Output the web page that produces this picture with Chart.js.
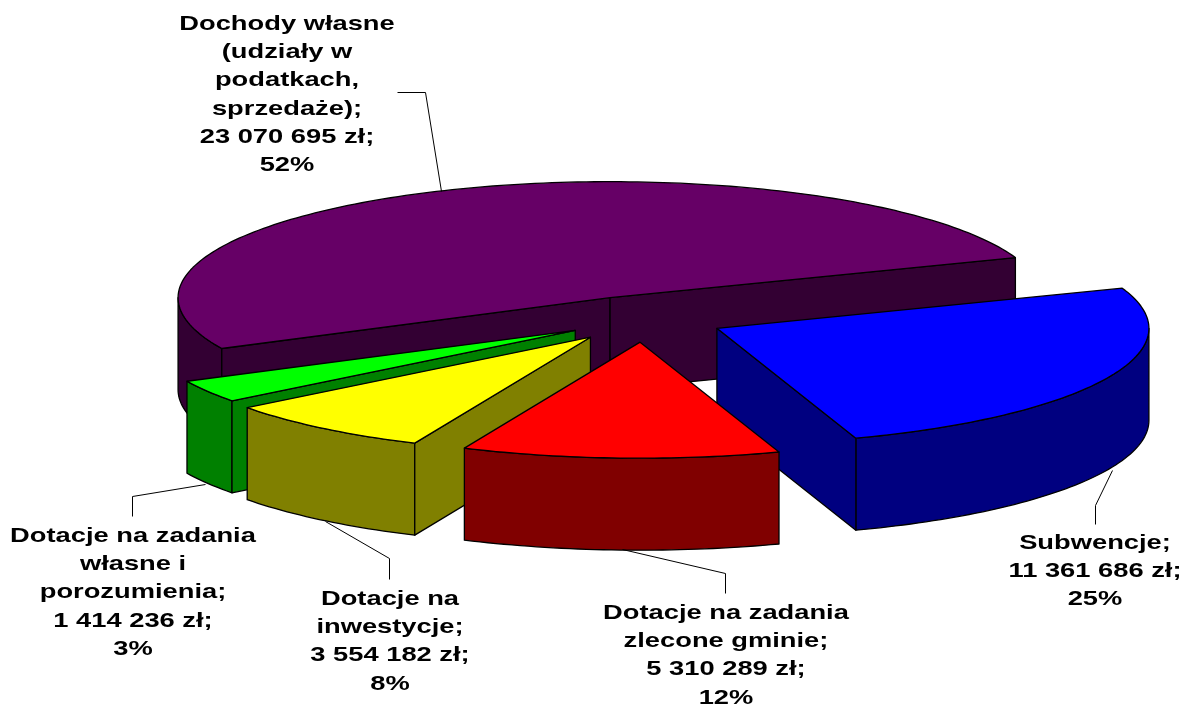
<!DOCTYPE html>
<html>
<head>
<meta charset="utf-8">
<script src="https://cdn.jsdelivr.net/npm/chart.js@4/dist/chart.umd.min.js"></script>
<style>
    html, body { margin: 0; padding: 0; background: #fff; }
    canvas { display: block; }
</style>
</head>
<body>
<canvas id="myChart" width="1183" height="705"></canvas>
<script>
const categories = [
    ['Dochody własne', '(udziały w', 'podatkach,', 'sprzedaże);'],
    ['Subwencje;'],
    ['Dotacje na zadania', 'zlecone gminie;'],
    ['Dotacje na', 'inwestycje;'],
    ['Dotacje na zadania', 'własne i', 'porozumienia;']
];
const values = [23070695, 11361686, 5310289, 3554182, 1414236];
const topColors = ['#660066', '#0000ff', '#ff0000', '#ffff00', '#00ff00'];
const wallColors = ['#330033', '#000080', '#800000', '#808000', '#008000'];

// look of the tilted pie, measured on the picture
const pie = { x: 644, y: 319, rx: 432, ry: 116, depth: 92 };
const explode = [0.2, 0.187, 0.2, 0.2, 0.187];
// back to front, so the walls cover each other properly
const drawOrder = [0, 1, 4, 3, 2];

// label centre x, first line y, leader line
const labelPlaces = [
    { x: 287, y: 24, line: [[397, 92], [425, 92], [441, 191]] },
    { x: 1095, y: 543, line: [[1112, 470], [1095, 505], [1095, 524]] },
    { x: 726, y: 613, line: [[622, 549], [725, 573], [725, 593]] },
    { x: 390, y: 599, line: [[325, 521], [389, 558], [389, 579]] },
    { x: 133, y: 536, line: [[205, 484], [132, 496], [132, 516]] }
];
const lineHeight = 28.3;
const textStretch = 1.3;

function moneyText(v) {
    return String(v).replace(/\B(?=(\d{3})+$)/g, ' ') + ' zł;';
}

function slicePoint(arc, index, angle, radius, h) {
    const mid = (arc.startAngle + arc.endAngle) / 2;
    return [
        pie.x + pie.rx * (explode[index] * Math.cos(mid) + radius * Math.cos(angle)),
        pie.y + pie.ry * (explode[index] * Math.sin(mid) + radius * Math.sin(angle)) + h
    ];
}

function polygon(ctx, pts, fill) {
    ctx.beginPath();
    pts.forEach((p, i) => i ? ctx.lineTo(p[0], p[1]) : ctx.moveTo(p[0], p[1]));
    ctx.closePath();
    if (fill) {
        ctx.fillStyle = fill;
        ctx.fill();
    }
    ctx.stroke();
}

function arcPoints(arc, index, from, to, h) {
    const pts = [];
    const steps = Math.max(2, Math.ceil((to - from) / 0.02));
    for (let i = 0; i <= steps; i++) {
        pts.push(slicePoint(arc, index, from + (to - from) * i / steps, 1, h));
    }
    return pts;
}

function drawWalls(ctx, arc, index) {
    const wall = wallColors[index];
    // outer wall: only the part of the rim that faces the viewer
    for (let k = -1; k <= 1; k++) {
        const from = Math.max(arc.startAngle, k * 2 * Math.PI);
        const to = Math.min(arc.endAngle, k * 2 * Math.PI + Math.PI);
        if (to > from) {
            const upper = arcPoints(arc, index, from, to, 0);
            const lower = arcPoints(arc, index, from, to, pie.depth).reverse();
            polygon(ctx, upper.concat(lower), wall);
        }
    }
    // cut walls
    const sides = [
        [arc.startAngle, arc.startAngle - Math.PI / 2],
        [arc.endAngle, arc.endAngle + Math.PI / 2]
    ];
    sides.forEach(([angle, normal]) => {
        if (Math.sin(normal) > 0) {
            polygon(ctx, [
                slicePoint(arc, index, 0, 0, 0),
                slicePoint(arc, index, angle, 1, 0),
                slicePoint(arc, index, angle, 1, pie.depth),
                slicePoint(arc, index, 0, 0, pie.depth)
            ], wall);
        }
    });
}

function drawTop(ctx, arc, index) {
    const mid = (arc.startAngle + arc.endAngle) / 2;
    ctx.save();
    ctx.translate(pie.x + pie.rx * explode[index] * Math.cos(mid), pie.y + pie.ry * explode[index] * Math.sin(mid));
    ctx.scale(pie.rx / arc.outerRadius, pie.ry / arc.outerRadius);
    ctx.translate(-arc.x, -arc.y);
    arc.draw(ctx);
    ctx.restore();
    const outline = [slicePoint(arc, index, 0, 0, 0)].concat(arcPoints(arc, index, arc.startAngle, arc.endAngle, 0));
    polygon(ctx, outline);
}

const pie3d = {
    id: 'pie3d',
    beforeDatasetDraw(chart, args) {
        const ctx = chart.ctx;
        const arcs = chart.getDatasetMeta(args.index).data;
        ctx.save();
        ctx.strokeStyle = '#000';
        ctx.lineWidth = 1.3;
        ctx.lineJoin = 'round';
        drawOrder.forEach(i => {
            drawWalls(ctx, arcs[i], i);
            drawTop(ctx, arcs[i], i);
        });
        ctx.restore();
        return false;
    },
    afterDraw(chart) {
        const ctx = chart.ctx;
        const total = values.reduce((a, b) => a + b, 0);
        ctx.save();
        ctx.strokeStyle = '#000';
        ctx.lineWidth = 1;
        labelPlaces.forEach((place, i) => {
            ctx.beginPath();
            place.line.forEach((p, k) => k ? ctx.lineTo(p[0] + 0.5, p[1] + 0.5) : ctx.moveTo(p[0] + 0.5, p[1] + 0.5));
            ctx.stroke();

            const lines = categories[i].concat([moneyText(values[i]), Math.round(values[i] / total * 100) + '%']);
            ctx.fillStyle = '#000';
            ctx.font = 'bold 21px "Liberation Sans", Arial, sans-serif';
            ctx.textAlign = 'center';
            ctx.textBaseline = 'middle';
            lines.forEach((text, k) => {
                ctx.save();
                ctx.translate(place.x, place.y + k * lineHeight);
                ctx.scale(textStretch, 1);
                ctx.fillText(text, 0, 0);
                ctx.restore();
            });
        });
        ctx.restore();
    }
};

new Chart(document.getElementById('myChart'), {
    type: 'pie',
    data: {
        labels: categories.map(c => c.join(' ')),
        datasets: [{
            data: values,
            backgroundColor: topColors,
            borderWidth: 0
        }]
    },
    options: {
        responsive: false,
        animation: false,
        devicePixelRatio: 1,
        rotation: -116,
        plugins: {
            legend: { display: false },
            tooltip: { enabled: false }
        }
    },
    plugins: [pie3d]
});
</script>
</body>
</html>
